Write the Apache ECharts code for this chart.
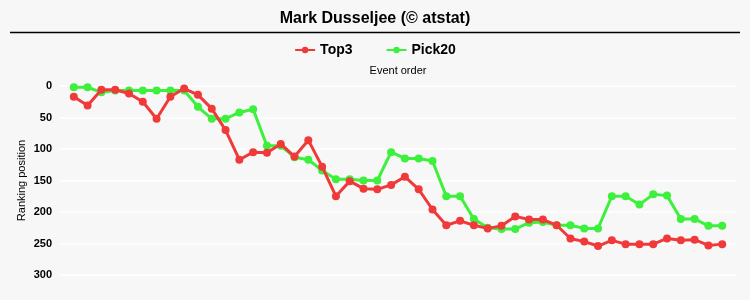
<!DOCTYPE html>
<html>
<head>
<meta charset="utf-8">
<script src="https://cdn.jsdelivr.net/npm/echarts@6/dist/echarts.min.js"></script>
<style>
html,body{margin:0;padding:0;background:#fff;}
#c{width:750px;height:300px;}
</style>
</head>
<body>
<div id="c"></div>
<script>
var events = [1,2,3,4,5,6,7,8,9,10,11,12,13,14,15,16,17,18,19,20,21,22,23,24,25,26,27,28,29,30,31,32,33,34,35,36,37,38,39,40,41,42,43,44,45,46,47,48];
var top3 = [17,31,6,6,12,25,52,17,4,14,36,70,117,105,106,92,112,86,128,175,151,163,164,157,144,164,196,221,214,221,226,222,207,212,212,221,242,247,254,245,251,251,251,242,245,244,253,251];
var pick20 = [2,2,10,7,7,7,7,7,7,33,52,52,42,37,95,95,113,117,134,148,148,150,150,105,115,115,119,175,175,211,225,227,227,217,216,221,221,226,226,175,175,188,172,174,211,211,222,222];
var yTicks = [0,50,100,150,200,250,300];

function pairs(arr){ return arr.map(function(v,i){ return [events[i], v]; }); }

var chart = echarts.init(document.getElementById('c'), null, {renderer:'canvas'});
chart.setOption({
  backgroundColor: '#f7f7f7',
  animation: false,
  title: {
    text: 'Mark Dusseljee (© atstat)',
    left: 'center', top: 6,
    textStyle: {fontFamily: 'Liberation Sans, Arial', fontWeight: 'bold', fontSize: 16, color: '#000'}
  },
  graphic: [{
    type: 'line', shape: {x1: 10, y1: 32.5, x2: 740, y2: 32.5},
    style: {stroke: '#000', lineWidth: 1.5}
  }],
  legend: {
    top: 38, left: 'center', itemGap: 33, itemWidth: 20, itemHeight: 8,
    textStyle: {fontFamily: 'Liberation Sans, Arial', fontWeight: 'bold', fontSize: 14, color: '#000'},
    data: ['Top3', 'Pick20']
  },
  grid: {left: 60, right: 14, top: 86, bottom: 25},
  xAxis: {
    type: 'value', position: 'top', min: 0, max: 49,
    name: 'Event order', nameLocation: 'middle', nameGap: 10,
    nameTextStyle: {fontFamily: 'Liberation Sans, Arial', fontSize: 11, color: '#000'},
    axisLine: {show: false}, axisTick: {show: false}, axisLabel: {show: false}, splitLine: {show: false}
  },
  yAxis: {
    type: 'value', inverse: true, min: 0, max: 300, interval: 50,
    name: 'Ranking position', nameLocation: 'middle', nameGap: 33, nameRotate: 90,
    nameMoveOverlap: false,
    nameTextStyle: {fontFamily: 'Liberation Sans, Arial', fontSize: 11, color: '#000'},
    axisLine: {show: false}, axisTick: {show: false},
    axisLabel: {fontFamily: 'Liberation Sans, Arial', fontWeight: 'bold', fontSize: 11, color: '#000', margin: 8,
      formatter: function(v){ return yTicks.indexOf(v) >= 0 ? String(v) : ''; }},
    splitLine: {show: true, lineStyle: {color: '#ffffff', width: 1.5}}
  },
  series: [
    {name: 'Top3', type: 'line', data: pairs(top3), symbol: 'circle', symbolSize: 8,
     itemStyle: {color: '#f03a3a'}, lineStyle: {width: 3, color: '#f03a3a'}, z: 3},
    {name: 'Pick20', type: 'line', data: pairs(pick20), symbol: 'circle', symbolSize: 8,
     itemStyle: {color: '#3cf03c'}, lineStyle: {width: 3, color: '#3cf03c'}, z: 2}
  ]
});
</script>
</body>
</html>
